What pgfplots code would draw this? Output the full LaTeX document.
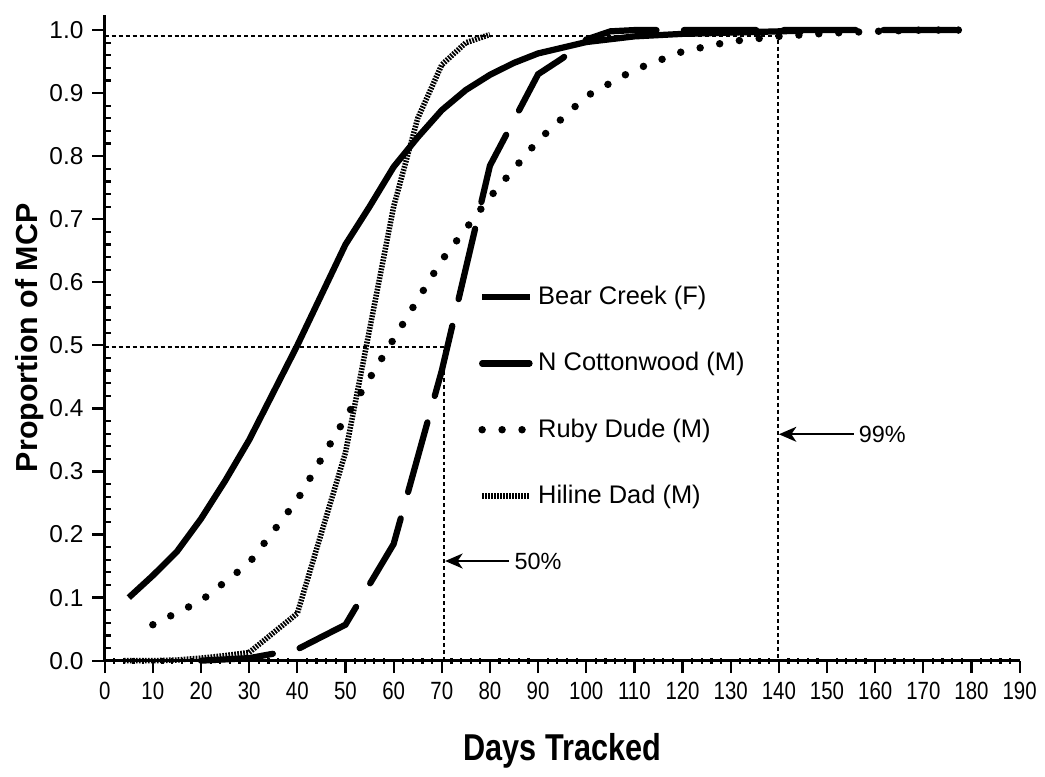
\documentclass[border=0pt]{standalone}
\usepackage{fontspec}
\setmainfont{Liberation Sans}
\newfontfamily\narrowfont[FakeStretch=0.82]{Liberation Sans}
\usepackage{pgfplots}
\pgfplotsset{compat=1.18}
\usetikzlibrary{arrows.meta}
\begin{document}
\begin{tikzpicture}
\begin{axis}[scale only axis, width=367pt, height=259pt,
    xmin=0, xmax=190, ymin=0, ymax=1.024, clip=false,
    axis lines*=left, axis line style={line width=1pt},
    xtick={0,10,...,190}, ytick={0,0.1,...,1.0},
    minor x tick num=4, minor y tick num=4,
    tick style={line width=0.9pt, black},
    xtick align=outside, ytick align=outside,
    major tick length=5pt, minor tick length=2.4pt,
    minor x tick style={yshift=1.2pt},
    minor y tick style={xshift=2.4pt},
    /pgf/number format/assume math mode=true,
    xticklabel style={font=\narrowfont\fontsize{10}{12}\selectfont},
    yticklabel style={font=\fontsize{9.8}{12}\selectfont, /pgf/number format/.cd, fixed, fixed zerofill, precision=1},
    every axis x label/.style={at={(axis description cs:0.5,0)}, yshift=-36pt, anchor=center},
    every axis y label/.style={at={(axis description cs:0,0.5)}, xshift=-30pt, rotate=90, anchor=center},
    xlabel={\narrowfont\fontsize{15}{18}\selectfont\bfseries Days Tracked},
    ylabel={\fontsize{12.2}{14}\selectfont\bfseries Proportion of MCP},
    legend style={draw=none, fill=none, at={(axis cs:77.5,0.605)}, anchor=north west,
      font=\fontsize{10.2}{12}\selectfont, row sep=12.6pt, inner sep=0pt,
      nodes={text height=8pt, text depth=2pt},
      /tikz/every even column/.append style={column sep=1.5pt}},
    legend cell align=left,
    legend image code/.code={\draw[#1] (0pt,0pt) -- (19pt,0pt);}]

\addplot[line width=2.5pt, black] coordinates {
(5,0.10) (10,0.135) (15,0.173) (20,0.225) (25,0.285) (30,0.35) (35,0.425)
(40,0.50) (45,0.58) (50,0.66) (55,0.72) (60,0.783) (65,0.83) (70,0.873)
(75,0.905) (80,0.929) (85,0.948) (90,0.963) (100,0.981) (110,0.99)
(120,0.994) (130,0.996) (140,0.998) (145,0.999)
};
\addlegendentry{Bear Creek (F)}

\addplot[line width=2.5pt, black, line cap=round, dash pattern=on 29pt off 11pt] coordinates {
(20,0) (30,0.004) (40,0.018) (50,0.057) (60,0.185) (70,0.46) (80,0.785)
(90,0.93) (95,0.955) (100,0.985) (105,0.998) (110,1.0) (120,1.0) (140,1.0)
(160,1.0) (180,1.0)
};
\addlegendentry{N Cottonwood (M)}

\addplot[line width=3pt, black, line cap=round, dash pattern=on 0pt off 8pt] coordinates {
(10,0.057) (20,0.095) (30,0.155) (40,0.255) (50,0.385) (60,0.51) (70,0.635)
(80,0.735) (90,0.825) (100,0.895) (110,0.937) (120,0.966) (130,0.982)
(140,0.99) (150,0.995) (160,0.998) (170,1.0) (180,1.0)
};
\addlegendentry{Ruby Dude (M)}

\addplot[line width=2.2pt, black, dash pattern=on 0.7pt off 0.5pt] coordinates {
(4,0) (10,0) (15,0.001) (20,0.004) (25,0.008) (30,0.013) (40,0.075)
(50,0.33) (60,0.72) (65,0.86) (70,0.945) (75,0.98) (80,0.993)
};
\addlegendentry{Hiline Dad (M)}

% reference lines
\draw[line width=0.8pt, dash pattern=on 1.6pt off 1.2pt]
  (axis cs:0,0.497) -- (axis cs:70.5,0.497) -- (axis cs:70.5,0);
\draw[line width=0.8pt, dash pattern=on 1.6pt off 1.2pt]
  (axis cs:0,0.991) -- (axis cs:139.8,0.991) -- (axis cs:139.8,0);
\draw[line width=0.8pt, -{Stealth[length=7pt,width=6pt,inset=2pt]}]
  (axis cs:84,0.158) -- (axis cs:70.7,0.158);
\node[anchor=west, inner sep=1pt, font=\fontsize{9.4}{11}\selectfont] at (axis cs:84.5,0.158) {50\%};
\draw[line width=0.8pt, -{Stealth[length=7pt,width=6pt,inset=2pt]}]
  (axis cs:155.5,0.359) -- (axis cs:140,0.359);
\node[anchor=west, inner sep=1pt, font=\fontsize{9.4}{11}\selectfont] at (axis cs:156,0.359) {99\%};
\end{axis}
\path (current axis.south west) ++(-42pt,-41.6pt) coordinate (bbl);
\path (current axis.north east) ++(8.8pt,6pt) coordinate (bbr);
\path (bbl) rectangle (bbr);
\end{tikzpicture}
\end{document}
